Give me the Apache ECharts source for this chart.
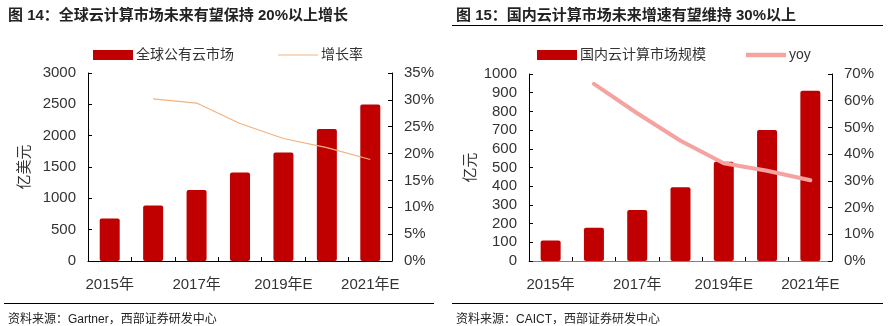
<!DOCTYPE html>
<html>
<head>
<meta charset="utf-8">
<script src="https://cdn.jsdelivr.net/npm/echarts@6/dist/echarts.min.js"></script>
<style>
  html, body { margin: 0; padding: 0; background: #fff; }
  #chart { width: 888px; height: 326px; }
</style>
</head>
<body>
<div id="chart"></div>
<script>
// Shared categories
var years = ['2015年', '2016年', '2017年', '2018年', '2019年E', '2020年E', '2021年E'];

// Fig.14: global public cloud market (100M USD) and growth rate (%)
var globalMarket = [680, 887, 1131, 1412, 1731, 2108, 2496];
var globalGrowth = [null, 30.2, 29.4, 25.6, 22.8, 21.1, 18.9];
var globalLeftTicks = { min: 0, max: 3000, interval: 500 };
var globalRightTicks = { min: 0, max: 35, interval: 5 };

// Fig.15: domestic cloud computing market (100M CNY) and yoy (%)
var chinaMarket = [110, 178, 273, 394, 531, 700, 911];
var chinaYoy = [null, 66.3, 55.3, 45.0, 36.6, 33.8, 30.2];
var chinaLeftTicks = { min: 0, max: 1000, interval: 100 };
var chinaRightTicks = { min: 0, max: 70, interval: 10 };

var FONT = "'Liberation Sans', Arial, 'Noto Sans CJK SC', sans-serif";
var BAR_RED = '#C00000';
var TEXT = '#333333';

function plain(v) { return String(v); }
function pct(v) { return v + '%'; }

function xAxis(gridIndex, lineColor) {
  return {
    type: 'category', gridIndex: gridIndex, data: years, boundaryGap: true,
    axisLine: { lineStyle: { color: lineColor, width: 1 } },
    axisTick: { show: true, inside: true, length: 4, interval: 0, lineStyle: { color: '#000' } },
    axisLabel: { interval: 1, color: TEXT, fontSize: 15, fontFamily: FONT, margin: 16 }
  };
}
function yAxis(gridIndex, ticks, pos, fmt, name, nameGap) {
  return {
    type: 'value', gridIndex: gridIndex, position: pos,
    min: ticks.min, max: ticks.max, interval: ticks.interval,
    name: name, nameLocation: 'middle', nameGap: nameGap, nameRotate: 90,
    nameTextStyle: { color: TEXT, fontSize: 15, fontFamily: FONT },
    splitLine: { show: false },
    axisLine: { show: true, lineStyle: { color: '#000', width: 1 } },
    axisTick: { show: true, inside: true, length: 4, lineStyle: { color: '#000' } },
    axisLabel: { color: TEXT, fontSize: 15, fontFamily: FONT, margin: 12, formatter: fmt }
  };
}

var chart = echarts.init(document.getElementById('chart'), null, { renderer: 'canvas' });
chart.setOption({
  animation: false,
  backgroundColor: '#fff',
  textStyle: { fontFamily: FONT },
  title: [
    { text: '图 14：全球云计算市场未来有望保持 20%以上增长', left: 3, top: 3,
      textStyle: { fontSize: 15, fontWeight: 'bold', color: '#222', fontFamily: FONT } },
    { text: '图 15：国内云计算市场未来增速有望维持 30%以上', left: 451, top: 3,
      textStyle: { fontSize: 15, fontWeight: 'bold', color: '#222', fontFamily: FONT } },
    { text: '资料来源：Gartner，西部证券研发中心', left: 3, top: 309,
      textStyle: { fontSize: 12, fontWeight: 'normal', color: '#222', fontFamily: FONT } },
    { text: '资料来源：CAICT，西部证券研发中心', left: 451, top: 309,
      textStyle: { fontSize: 12, fontWeight: 'normal', color: '#222', fontFamily: FONT } }
  ],
  legend: [
    { left: 88, top: 43, itemGap: 44, itemWidth: 40, itemHeight: 10,
      textStyle: { fontSize: 14, color: TEXT, fontFamily: FONT, padding: [0, 0, 0, -2] },
      data: [
        { name: '全球公有云市场', icon: 'rect' },
        { name: '增长率', icon: 'path://M0,0 L40,0 L40,1.2 L0,1.2 Z', itemStyle: { color: '#F2B27E' } }
      ] },
    { left: 532, top: 43, itemGap: 40, itemWidth: 40, itemHeight: 10,
      textStyle: { fontSize: 14, color: TEXT, fontFamily: FONT, padding: [0, 0, 0, -2] },
      data: [
        { name: '国内云计算市场规模', icon: 'rect' },
        { name: 'yoy', icon: 'path://M0,0 L36,0 L36,4 L0,4 Z', itemStyle: { color: '#F4A3A0' } }
      ] }
  ],
  grid: [
    { left: 88, right: 496, top: 73, bottom: 65 },
    { left: 529, right: 56, top: 74, bottom: 65 }
  ],
  xAxis: [xAxis(0, '#000'), xAxis(1, '#808080')],
  yAxis: [
    yAxis(0, globalLeftTicks, 'left', plain, '亿美元', 56),
    yAxis(0, globalRightTicks, 'right', pct, '', 0),
    yAxis(1, chinaLeftTicks, 'left', plain, '亿元', 51),
    yAxis(1, chinaRightTicks, 'right', pct, '', 0)
  ],
  graphic: [
    { type: 'line', shape: { x1: 452, y1: 25.5, x2: 883, y2: 25.5 }, style: { stroke: '#000', lineWidth: 1 } },
    { type: 'line', shape: { x1: 4, y1: 303.5, x2: 434, y2: 303.5 }, style: { stroke: '#000', lineWidth: 1 } },
    { type: 'line', shape: { x1: 452, y1: 303.5, x2: 883, y2: 303.5 }, style: { stroke: '#000', lineWidth: 1 } }
  ],
  series: [
    { name: '全球公有云市场', type: 'bar', xAxisIndex: 0, yAxisIndex: 0, data: globalMarket,
      barWidth: 20, itemStyle: { color: BAR_RED, borderRadius: 2 } },
    { name: '增长率', type: 'line', xAxisIndex: 0, yAxisIndex: 1, data: globalGrowth,
      showSymbol: false, symbol: 'none', lineStyle: { color: '#F2B27E', width: 1.2 }, itemStyle: { color: '#F2B27E' } },
    { name: '国内云计算市场规模', type: 'bar', xAxisIndex: 1, yAxisIndex: 2, data: chinaMarket,
      barWidth: 20, itemStyle: { color: BAR_RED, borderRadius: 2 } },
    { name: 'yoy', type: 'line', xAxisIndex: 1, yAxisIndex: 3, data: chinaYoy,
      showSymbol: false, symbol: 'none', lineStyle: { color: '#F4A3A0', width: 4, cap: 'round' }, itemStyle: { color: '#F4A3A0' } }
  ]
});
</script>
</body>
</html>
